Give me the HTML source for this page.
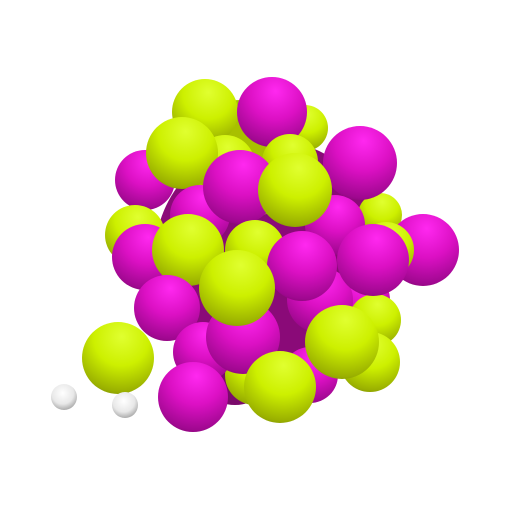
<!DOCTYPE html>
<html><head><meta charset="utf-8"><style>html,body{margin:0;padding:0;background:#fff;width:512px;height:512px;overflow:hidden}</style></head>
<body>
<svg width="512" height="512" viewBox="0 0 512 512" xmlns="http://www.w3.org/2000/svg">
<defs>
<radialGradient id="L" cx="55%" cy="25%" r="85%" fx="55%" fy="20%">
<stop offset="0" stop-color="#e0ff30"/><stop offset="0.45" stop-color="#cdf000"/><stop offset="0.85" stop-color="#9ab000"/><stop offset="1" stop-color="#75850a"/></radialGradient>
<radialGradient id="M" cx="55%" cy="25%" r="85%" fx="55%" fy="20%">
<stop offset="0" stop-color="#ff28f0"/><stop offset="0.45" stop-color="#dc10c4"/><stop offset="0.85" stop-color="#a00890"/><stop offset="1" stop-color="#780468"/></radialGradient>
<radialGradient id="W" cx="45%" cy="35%" r="70%"><stop offset="0" stop-color="#ffffff"/><stop offset="0.6" stop-color="#e8e8e8"/><stop offset="1" stop-color="#a0a0a0"/></radialGradient>
</defs>
<g>
<circle cx="270" cy="255" r="115" fill="#8a0a78"/>
<circle cx="240" cy="160" r="60" fill="#a8c000"/>
<circle cx="235" cy="365" r="40" fill="#7a0a6a"/>
<circle cx="305" cy="128" r="23" fill="url(#L)"/>
<circle cx="205" cy="112" r="33" fill="url(#L)"/>
<circle cx="272" cy="112" r="35" fill="url(#M)"/>
<circle cx="145" cy="180" r="30" fill="url(#M)"/>
<circle cx="135" cy="235" r="30" fill="url(#L)"/>
<circle cx="290" cy="162" r="28" fill="url(#L)"/>
<circle cx="225" cy="165" r="30" fill="url(#L)"/>
<circle cx="380" cy="215" r="22" fill="url(#L)"/>
<circle cx="335" cy="225" r="30" fill="url(#M)"/>
<circle cx="360" cy="163" r="37" fill="url(#M)"/>
<circle cx="182" cy="153" r="36" fill="url(#L)"/>
<circle cx="200" cy="215" r="30" fill="url(#M)"/>
<circle cx="240" cy="187" r="37" fill="url(#M)"/>
<circle cx="295" cy="190" r="37" fill="url(#L)"/>
<circle cx="423" cy="250" r="36" fill="url(#M)"/>
<circle cx="386" cy="250" r="28" fill="url(#L)"/>
<circle cx="255" cy="250" r="30" fill="url(#L)"/>
<circle cx="360" cy="300" r="30" fill="url(#M)"/>
<circle cx="375" cy="320" r="26" fill="url(#L)"/>
<circle cx="320" cy="300" r="33" fill="url(#M)"/>
<circle cx="373" cy="260" r="36" fill="url(#M)"/>
<circle cx="302" cy="266" r="35" fill="url(#M)"/>
<circle cx="145" cy="257" r="33" fill="url(#M)"/>
<circle cx="188" cy="250" r="36" fill="url(#L)"/>
<circle cx="167" cy="308" r="33" fill="url(#M)"/>
<circle cx="255" cy="375" r="30" fill="url(#L)"/>
<circle cx="310" cy="375" r="28" fill="url(#M)"/>
<circle cx="203" cy="352" r="30" fill="url(#M)"/>
<circle cx="243" cy="337" r="37" fill="url(#M)"/>
<circle cx="237" cy="288" r="38" fill="url(#L)"/>
<circle cx="370" cy="362" r="30" fill="url(#L)"/>
<circle cx="342" cy="342" r="37" fill="url(#L)"/>
<circle cx="280" cy="387" r="36" fill="url(#L)"/>
<circle cx="193" cy="397" r="35" fill="url(#M)"/>
<circle cx="118" cy="358" r="36" fill="url(#L)"/>
<circle cx="125" cy="405" r="13" fill="url(#W)"/>
<circle cx="64" cy="397" r="13" fill="url(#W)"/>
</g>
</svg>
</body></html>
